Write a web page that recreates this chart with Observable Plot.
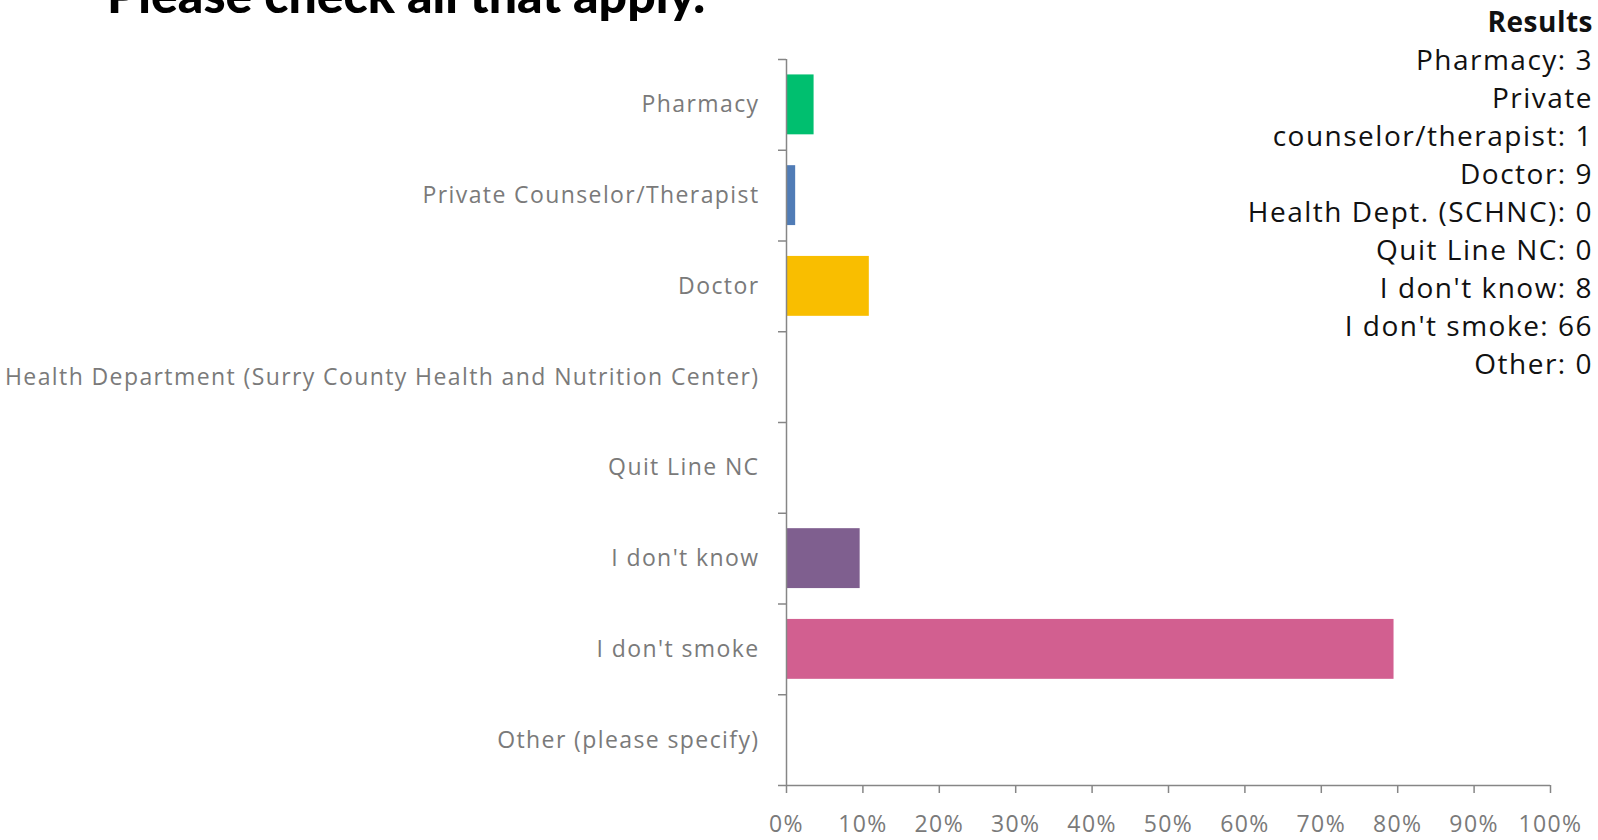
<!DOCTYPE html>
<html>
<head>
<meta charset="utf-8">
<script src="https://cdn.jsdelivr.net/npm/d3@7"></script>
<script src="https://cdn.jsdelivr.net/npm/@observablehq/plot@0.6"></script>
<style>
  html, body { margin: 0; padding: 0; background: #fff; }
  body { width: 1598px; height: 840px; overflow: hidden; position: relative; }
  #title { position: absolute; left: 107px; top: -31px; font-family: Lato, "Open Sans", sans-serif; font-weight: 900; font-size: 50px; line-height: 50px; color: #000; white-space: nowrap; }
  #results { position: absolute; right: 5px; top: 2px; font-family: "Open Sans", sans-serif; font-size: 28px; letter-spacing: 1.5px; line-height: 38px; color: #111; text-align: right; white-space: nowrap; }
  #results .head { font-weight: 700; letter-spacing: 0.5px; }
  #chart { position: absolute; left: 0; top: 0; }
  #chart svg text { letter-spacing: 1.4px; }
</style>
</head>
<body>
<div id="chart"></div>
<div id="title"></div>
<div id="results"></div>
<script>
const titleText = "Please check all that apply.";
const categories = [
  "Pharmacy",
  "Private Counselor/Therapist",
  "Doctor",
  "Health Department (Surry County Health and Nutrition Center)",
  "Quit Line NC",
  "I don't know",
  "I don't smoke",
  "Other (please specify)"
];
const percents = [3.61, 1.20, 10.84, 0, 0, 9.64, 79.52, 0];
const colors = ["#00bf6f", "#507cb6", "#f9be00", "#6bc8cd", "#ff8b4f", "#7f5f8f", "#d25f90", "#a6a6a6"];
const xTicks = [0, 10, 20, 30, 40, 50, 60, 70, 80, 90, 100];
const resultsHead = "Results";
const resultsLines = [
  "Pharmacy: 3",
  "Private",
  "counselor/therapist: 1",
  "Doctor: 9",
  "Health Dept. (SCHNC): 0",
  "Quit Line NC: 0",
  "I don't know: 8",
  "I don't smoke: 66",
  "Other: 0"
];

document.getElementById("title").textContent = titleText;
const res = document.getElementById("results");
const h = document.createElement("div"); h.className = "head"; h.textContent = resultsHead; res.appendChild(h);
for (const l of resultsLines) { const d = document.createElement("div"); d.textContent = l; res.appendChild(d); }

const data = categories.map((c, i) => ({cat: c, pct: percents[i]}));
const W = 1598, H = 840, mL = 786, mR = 48, mT = 59, mB = 55;
const step = (H - mT - mB) / categories.length;
const tickLen = 8 * 100 / (W - mL - mR);
const grey = "#868686";
const textGrey = "#7a7a7a";

const chart = Plot.plot({
  width: W, height: H,
  marginLeft: mL, marginRight: mR, marginTop: mT, marginBottom: mB,
  style: {fontFamily: "'Open Sans', sans-serif", fontSize: "23px", background: "transparent"},
  x: {domain: [0, 100], round: false},
  y: {domain: categories, paddingInner: 0.34, paddingOuter: 0.17, round: false},
  color: {domain: categories, range: colors},
  marks: [
    Plot.barX(data, {y: "cat", x: "pct", fill: "cat"}),
    Plot.axisX({ticks: xTicks, tickFormat: d => d + "%", tickSize: 8, tickPadding: 22, stroke: grey, strokeWidth: 1.5, fill: textGrey, label: null}),
    Plot.axisY({tickSize: 0, tickPadding: 27, fill: textGrey, label: null}),
    Plot.ruleX([0], {stroke: grey, strokeWidth: 1.5}),
    Plot.ruleY(categories, {y: d => d, x1: -tickLen, x2: 0, dy: -step / 2, stroke: grey, strokeWidth: 1.5}),
    Plot.ruleY([categories[categories.length - 1]], {y: d => d, x1: -tickLen, x2: 100, dy: step / 2, stroke: grey, strokeWidth: 1.5})
  ]
});
document.getElementById("chart").appendChild(chart);
</script>
</body>
</html>
